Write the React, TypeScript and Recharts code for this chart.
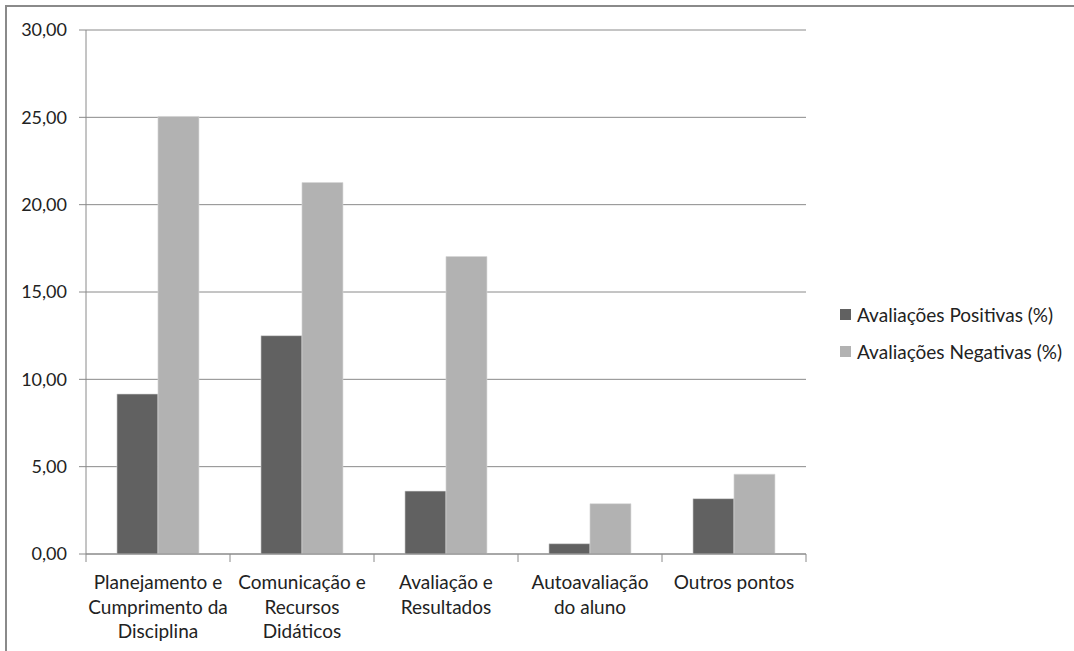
import React from "react";
import {
  Bar,
  BarChart,
  CartesianGrid,
  Legend,
  XAxis,
  YAxis,
} from "recharts";

const categorias = [
  "Planejamento e\nCumprimento da\nDisciplina",
  "Comunicação e\nRecursos\nDidáticos",
  "Avaliação e\nResultados",
  "Autoavaliação\ndo aluno",
  "Outros pontos",
];
const positivas = [9.16, 12.5, 3.6, 0.59, 3.17];
const negativas = [25.05, 21.27, 17.03, 2.88, 4.57];
const ticksY = [0, 5, 10, 15, 20, 25, 30];

const FONTE = "Lato, 'Open Sans', sans-serif";
const COR_POS = "#616161";
const COR_NEG = "#b2b2b2";
const COR_LINHA = "#8a8a8a";

const dados = categorias.map((categoria, i) => ({
  categoria,
  positivas: positivas[i],
  negativas: negativas[i],
}));

const series = [
  { chave: "positivas", nome: "Avaliações Positivas (%)", cor: COR_POS },
  { chave: "negativas", nome: "Avaliações Negativas (%)", cor: COR_NEG },
];

// rótulo em várias linhas + marcas nas bordas das categorias (estilo Excel)
function TickCategoria({ x, y, payload, index, visibleTicksCount }: any) {
  const linhas = String(payload.value).split("\n");
  const meio = payload.offset ?? 0;
  const ultimo = index === visibleTicksCount - 1;
  return (
    <g>
      <line x1={x - meio} y1={y} x2={x - meio} y2={y + 8} stroke={COR_LINHA} />
      {ultimo && (
        <line x1={x + meio} y1={y} x2={x + meio} y2={y + 8} stroke={COR_LINHA} />
      )}
      <text
        x={x}
        y={y + 35}
        textAnchor="middle"
        fill="#222"
        fontSize={19}
        fontFamily={FONTE}
      >
        {linhas.map((l, i) => (
          <tspan key={i} x={x} dy={i === 0 ? 0 : 24.5}>
            {l}
          </tspan>
        ))}
      </text>
    </g>
  );
}

function Legenda() {
  return (
    <div style={{ fontFamily: FONTE, fontSize: 19, color: "#222" }}>
      {series.map((s) => (
        <div
          key={s.chave}
          style={{ display: "flex", alignItems: "center", height: 37 }}
        >
          <span
            style={{
              width: 11,
              height: 11,
              background: s.cor,
              marginRight: 6,
              display: "inline-block",
            }}
          />
          {s.nome}
        </div>
      ))}
    </div>
  );
}

export default function App() {
  return (
    <div
      style={{
        position: "fixed",
        left: 0,
        top: 0,
        width: 1074,
        height: 651,
        background: "#fff",
        overflow: "hidden",
      }}
    >
      <div
        style={{
          position: "absolute",
          left: 5,
          top: 5,
          width: 1100,
          height: 700,
          border: `2px solid ${COR_LINHA}`,
        }}
      />
      <div style={{ position: "absolute", left: 0, top: 0 }}>
        <BarChart
          width={1074}
          height={651}
          data={dados}
          margin={{ top: 30, right: 268, bottom: 0, left: 0 }}
          barCategoryGap="21.5%"
          barGap={0}
        >
          <CartesianGrid vertical={false} stroke={COR_LINHA} />
          <XAxis
            dataKey="categoria"
            interval={0}
            height={97}
            tickLine={false}
            tickSize={0}
            tickMargin={0}
            axisLine={{ stroke: COR_LINHA }}
            tick={<TickCategoria />}
          />
          <YAxis
            width={86}
            domain={[0, 30]}
            ticks={ticksY}
            tickSize={7}
            tickMargin={12}
            axisLine={{ stroke: COR_LINHA }}
            tickLine={{ stroke: COR_LINHA }}
            tick={{ fill: "#222", fontSize: 18, fontFamily: FONTE }}
            tickFormatter={(v: number) => v.toFixed(2).replace(".", ",")}
          />
          <Legend
            layout="horizontal"
            verticalAlign="middle"
            align="center"
            content={<Legenda />}
            wrapperStyle={{ left: 840, top: 296, width: 234 }}
          />
          {series.map((s) => (
            <Bar
              key={s.chave}
              dataKey={s.chave}
              name={s.nome}
              fill={s.cor}
              stroke="#d6d6d6"
              strokeWidth={0.6}
              isAnimationActive={false}
            />
          ))}
        </BarChart>
      </div>
    </div>
  );
}
